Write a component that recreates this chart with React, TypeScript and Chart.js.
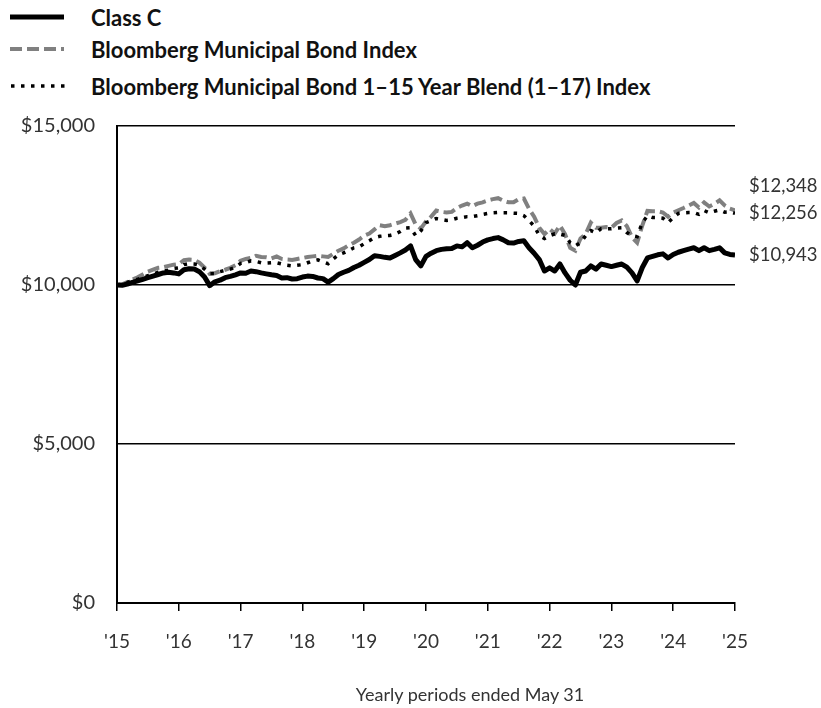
import React, { useEffect, useRef } from "react";
import { Chart, registerables } from "chart.js";

Chart.register(...registerables);

const yearLabels = ["'15", "'16", "'17", "'18", "'19", "'20", "'21", "'22", "'23", "'24", "'25"];
const yTickValues = [0, 5000, 10000, 15000];
const seriesNames = [
  "Class C",
  "Bloomberg Municipal Bond Index",
  "Bloomberg Municipal Bond 1–15 Year Blend (1–17) Index",
];
const xAxisTitle = "Yearly periods ended May 31";

// Monthly values, May 2015 – May 2025 (121 points)
const classC = [
  10000, 9990, 10030, 10080, 10130, 10180, 10230, 10280, 10330, 10380,
  10400, 10380, 10350, 10480, 10510, 10500, 10420, 10250, 9980, 10100,
  10150, 10230, 10270, 10320, 10380, 10370, 10440, 10420, 10380, 10350,
  10320, 10300, 10220, 10230, 10190, 10200, 10250, 10280, 10270, 10220,
  10200, 10090, 10200, 10330, 10400, 10460, 10550, 10620, 10710, 10800,
  10920, 10900, 10870, 10850, 10930, 11010, 11100, 11230, 10800, 10600,
  10900, 11000, 11080, 11120, 11140, 11150, 11230, 11200, 11330, 11170,
  11250, 11350, 11420, 11460, 11490, 11420, 11330, 11320, 11370, 11390,
  11170, 11000, 10800, 10440, 10540, 10440, 10660, 10380, 10150, 10000,
  10400, 10440, 10600, 10500, 10660, 10620, 10580, 10620, 10660, 10560,
  10380, 10130, 10550, 10850, 10900, 10950, 10980, 10850, 10960, 11030,
  11080, 11130, 11170, 11080, 11170, 11080, 11120, 11170, 11010, 10960,
  10943,
];

const muniIndex = [
  10000, 10020, 10090, 10170, 10240, 10330, 10420, 10480, 10540, 10560,
  10600, 10640, 10660, 10780, 10800, 10790, 10700, 10550, 10350, 10370,
  10430, 10480, 10540, 10620, 10760, 10820, 10850, 10920, 10880, 10870,
  10840, 10900, 10820, 10800, 10790, 10820, 10850, 10880, 10900, 10920,
  10900, 10880, 10980, 11080, 11150, 11250, 11330, 11430, 11550, 11620,
  11750, 11880, 11850, 11880, 11930, 11980, 12050, 12250, 11900, 11770,
  12000, 12150, 12340, 12300, 12280, 12300, 12420, 12500, 12560, 12480,
  12560, 12600, 12660, 12700, 12730, 12650, 12600, 12600, 12700, 12720,
  12400, 12150, 11800, 11600, 11760, 11620, 11870, 11600, 11170, 11080,
  11460, 11600, 11960, 11800, 11800, 11820, 11800, 11950, 12030, 11850,
  11500, 11330, 11870, 12330, 12320, 12320, 12280, 12150, 12280, 12350,
  12420, 12500, 12580, 12440, 12600, 12470, 12550, 12660, 12500, 12400,
  12348,
];

const blendIndex = [
  10000, 10030, 10080, 10140, 10180, 10240, 10290, 10340, 10400, 10430,
  10470, 10520, 10540, 10640, 10670, 10660, 10620, 10500, 10360, 10360,
  10420, 10460, 10500, 10560, 10680, 10700, 10760, 10740, 10700, 10690,
  10700, 10700, 10660, 10620, 10600, 10620, 10640, 10700, 10760, 10790,
  10730, 10670, 10820, 10950, 11010, 11080, 11170, 11200, 11300, 11390,
  11490, 11530, 11550, 11560, 11600, 11680, 11790, 11800, 11550, 11700,
  11960, 12020, 12090, 12060, 12030, 12050, 12100, 12120, 12150, 12150,
  12180, 12220, 12250, 12270, 12280, 12270, 12270, 12260, 12250, 12180,
  12030, 11850, 11560, 11460, 11550, 11610, 11600, 11560, 11330, 11230,
  11330, 11550, 11710, 11640, 11770, 11770, 11770, 11790, 11800, 11650,
  11550, 11520, 11960, 12180, 12120, 12120, 12100, 11960, 12120, 12250,
  12270, 12280, 12280, 12220, 12340, 12270, 12320, 12360, 12290, 12300,
  12256,
];

const FONT = "Lato, 'Open Sans', sans-serif";
const TEXT_COLOR = "#333333";
const GRAY = "#808080";

const fmtMoney = (v: number) => "$" + Math.round(v).toLocaleString("en-US");

const endLabelPlugin = {
  id: "endLabels",
  afterDraw(chart: any) {
    const { ctx, chartArea, scales } = chart;
    const items = chart.data.datasets.map((ds: any) => {
      const last = ds.data[ds.data.length - 1].y;
      return { text: fmtMoney(last), y: scales.y.getPixelForValue(last) };
    });
    items.sort((a: any, b: any) => b.y - a.y);
    const gap = 27;
    for (let i = 1; i < items.length; i++) {
      if (items[i].y > items[i - 1].y - gap) items[i].y = items[i - 1].y - gap;
    }
    ctx.save();
    ctx.font = `18.5px ${FONT}`;
    ctx.fillStyle = TEXT_COLOR;
    ctx.textAlign = "left";
    ctx.textBaseline = "middle";
    items.forEach((it: any) => ctx.fillText(it.text, chartArea.right + 14, it.y));
    ctx.restore();
  },
};

function LegendSample({ kind }: { kind: number }) {
  if (kind === 0)
    return (
      <svg width="56" height="10">
        <line x1="0" y1="5" x2="54" y2="5" stroke="#000" strokeWidth="5" />
      </svg>
    );
  if (kind === 1)
    return (
      <svg width="56" height="10">
        <line x1="0" y1="5" x2="54" y2="5" stroke={GRAY} strokeWidth="4" strokeDasharray="12 5" />
      </svg>
    );
  return (
    <svg width="56" height="10">
      <line x1="1" y1="5" x2="56" y2="5" stroke="#000" strokeWidth="3.5" strokeDasharray="3.5 6.5" />
    </svg>
  );
}

export default function App() {
  const canvasRef = useRef<HTMLCanvasElement | null>(null);

  useEffect(() => {
    const canvas = canvasRef.current;
    if (!canvas) return;
    const toPts = (arr: number[]) => arr.map((v, i) => ({ x: i, y: v }));
    const chart = new Chart(canvas, {
      type: "line",
      data: {
        datasets: [
          {
            label: seriesNames[0],
            data: toPts(classC),
            borderColor: "#000000",
            borderWidth: 5,
            pointRadius: 0,
            tension: 0,
            borderJoinStyle: "round",
            order: 0,
          },
          {
            label: seriesNames[1],
            data: toPts(muniIndex),
            borderColor: GRAY,
            borderWidth: 4,
            borderDash: [12, 5],
            pointRadius: 0,
            tension: 0,
            order: 2,
          },
          {
            label: seriesNames[2],
            data: toPts(blendIndex),
            borderColor: "#000000",
            borderWidth: 3.5,
            borderDash: [3.5, 6.5],
            pointRadius: 0,
            tension: 0,
            order: 1,
          },
        ] as any,
      },
      options: {
        animation: false,
        responsive: false,
        maintainAspectRatio: false,
        events: [],
        layout: { padding: { left: 0, right: 86, top: 126, bottom: 0 } },
        plugins: { legend: { display: false }, tooltip: { enabled: false }, title: { display: false } },
        scales: {
          x: {
            type: "linear",
            min: 0,
            max: 120,
            afterFit: (s: any) => {
              s.height = 105;
            },
            ticks: {
              stepSize: 12,
              autoSkip: false,
              maxRotation: 0,
              padding: 19,
              color: TEXT_COLOR,
              font: { family: FONT, size: 19 },
              callback: (v: any) => yearLabels[Math.round(Number(v) / 12)],
            },
            grid: {
              drawOnChartArea: false,
              drawTicks: true,
              tickLength: 8,
              color: "#000000",
              lineWidth: 1.5,
            },
            border: { display: true, color: "#000000", width: 2 },
          },
          y: {
            min: 0,
            max: 15000,
            afterFit: (s: any) => {
              s.width = 117;
            },
            afterBuildTicks: (s: any) => {
              s.ticks = yTickValues.map((v) => ({ value: v }));
            },
            ticks: {
              padding: 22,
              color: TEXT_COLOR,
              font: { family: FONT, size: 20 },
              callback: (v: any) => fmtMoney(Number(v)),
            },
            grid: { drawTicks: false, color: "#000000", lineWidth: 1.5 },
            border: { display: true, color: "#000000", width: 2 },
          },
        },
      },
      plugins: [endLabelPlugin],
    } as any);
    return () => chart.destroy();
  }, []);

  const rowTops = [4, 36, 73];

  return (
    <div style={{ position: "fixed", left: 0, top: 0, width: 821, height: 708, background: "#fff", fontFamily: FONT }}>
      {seriesNames.map((name, i) => (
        <div
          key={name}
          style={{
            position: "absolute",
            left: 10,
            top: rowTops[i],
            height: 26,
            display: "flex",
            alignItems: "center",
            whiteSpace: "nowrap",
          }}
        >
          <LegendSample kind={i} />
          <span style={{ marginLeft: 25, fontWeight: 700, fontSize: 22, color: "#111" }}>{name}</span>
        </div>
      ))}
      <canvas ref={canvasRef} width={821} height={708} style={{ position: "absolute", left: 0, top: 0 }} />
      <div
        style={{
          position: "absolute",
          left: 470,
          top: 683,
          transform: "translateX(-50%)",
          fontSize: 18,
          color: TEXT_COLOR,
          whiteSpace: "nowrap",
        }}
      >
        {xAxisTitle}
      </div>
    </div>
  );
}
